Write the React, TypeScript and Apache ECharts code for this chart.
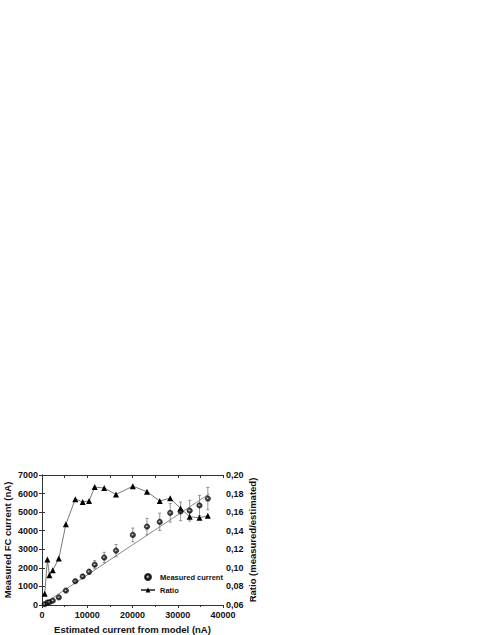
import React, { useEffect, useRef } from "react";
import * as echarts from "echarts";

const estimated = [600, 1190, 1640, 2380, 3720, 5280, 7360, 8990, 10400, 11650, 13750, 16360, 20070, 23200, 26020, 28330, 30630, 32640, 34800, 36650];
const measured = [45, 130, 150, 232, 410, 776, 1280, 1537, 1789, 2170, 2557, 2928, 3773, 4222, 4475, 4960, 5040, 5080, 5360, 5730];
const measuredErr = [30, 30, 30, 40, 50, 60, 90, 110, 140, 220, 280, 330, 370, 440, 470, 500, 500, 560, 540, 600];
const ratio = [0.072, 0.109, 0.092, 0.0975, 0.110, 0.147, 0.174, 0.171, 0.172, 0.187, 0.186, 0.179, 0.188, 0.182, 0.172, 0.175, 0.164, 0.155, 0.154, 0.156];
const fitX = [0, 37000];
const fitY = [0, 5990];

const FONT = "Liberation Sans, Arial, sans-serif";

export default function App() {
  const ref = useRef<HTMLDivElement>(null);
  useEffect(() => {
    if (!ref.current) return;
    const chart = echarts.init(ref.current, undefined, { renderer: "svg" });
    const sphere = new echarts.graphic.RadialGradient(0.45, 0.45, 0.6, [
      { offset: 0, color: "#ffffff" },
      { offset: 0.18, color: "#7a7a7a" },
      { offset: 0.45, color: "#111111" },
      { offset: 1, color: "#000000" },
    ]);
    const labelStyle = { fontFamily: FONT, fontWeight: "bold" as const, fontSize: 9, color: "#111" };
    const nameStyle = { fontFamily: FONT, fontWeight: "bold" as const, fontSize: 9.5, color: "#111" };
    const axisLine = { show: true, lineStyle: { color: "#333", width: 1 } };
    chart.setOption({
      animation: false,
      backgroundColor: "#fff",
      grid: { left: 42, right: 268, top: 475, bottom: 30 },
      legend: {
        left: 135,
        top: 568,
        orient: "vertical",
        itemWidth: 14,
        itemHeight: 6,
        itemGap: 5,
        textStyle: { fontFamily: FONT, fontWeight: "bold", fontSize: 7.5, color: "#111" },
        data: [{ name: "Measured current", icon: "circle" }, { name: "Ratio" }],
      },
      xAxis: [
        {
          type: "value",
          position: "bottom",
          min: 0,
          max: 40000,
          interval: 10000,
          splitLine: { show: false },
          axisLine,
          axisTick: { show: true, length: 3, lineStyle: { color: "#333" } },
          minorTick: { show: true, splitNumber: 2, length: 2, lineStyle: { color: "#333" } },
          axisLabel: { ...labelStyle, margin: 5, formatter: (v: number) => String(v) },
          name: "Estimated current from model (nA)",
          nameLocation: "middle",
          nameGap: 19,
          nameTextStyle: { ...nameStyle, verticalAlign: "top" },
        },
        {
          type: "value",
          position: "top",
          min: 0,
          max: 40000,
          interval: 5000,
          splitLine: { show: false },
          axisLine,
          axisTick: { show: true, inside: true, length: 3, lineStyle: { color: "#333" } },
          axisLabel: { show: false },
        },
      ],
      yAxis: [
        {
          type: "value",
          position: "left",
          min: 0,
          max: 7000,
          interval: 1000,
          splitLine: { show: false },
          axisLine,
          axisTick: { show: true, length: 3, lineStyle: { color: "#333" } },
          axisLabel: { ...labelStyle, margin: 4, formatter: (v: number) => String(v) },
          name: "Measured FC current (nA)",
          nameLocation: "middle",
          nameGap: 35,
          nameRotate: 90,
          nameTextStyle: { ...nameStyle, verticalAlign: "middle" },
        },
        {
          type: "value",
          position: "right",
          min: 0.06,
          max: 0.2,
          interval: 0.02,
          splitLine: { show: false },
          axisLine,
          axisTick: { show: true, length: 3, lineStyle: { color: "#333" } },
          axisLabel: {
            ...labelStyle,
            margin: 3,
            formatter: (v: number) => v.toFixed(2).replace(".", ","),
          },
          name: "Ratio (measured/estimated)",
          nameLocation: "middle",
          nameGap: 29,
          nameRotate: 90,
          nameTextStyle: { ...nameStyle, verticalAlign: "middle" },
        },
      ],
      series: [
        {
          name: "fit",
          type: "line",
          xAxisIndex: 0,
          yAxisIndex: 0,
          data: fitX.map((x, i) => [x, fitY[i]]),
          symbol: "none",
          lineStyle: { color: "#8a8a8a", width: 1 },
          silent: true,
          z: 1,
        },
        {
          name: "err",
          type: "custom",
          xAxisIndex: 0,
          yAxisIndex: 0,
          data: estimated.map((x, i) => [x, measured[i] - measuredErr[i], measured[i] + measuredErr[i]]),
          renderItem: (params: any, api: any) => {
            const x = api.value(0);
            const lo = api.coord([x, api.value(1)]);
            const hi = api.coord([x, api.value(2)]);
            const w = 1.5;
            const style = { stroke: "#7a7a7a", lineWidth: 0.8 };
            return {
              type: "group",
              children: [
                { type: "line", shape: { x1: lo[0], y1: lo[1], x2: hi[0], y2: hi[1] }, style },
                { type: "line", shape: { x1: lo[0] - w, y1: lo[1], x2: lo[0] + w, y2: lo[1] }, style },
                { type: "line", shape: { x1: hi[0] - w, y1: hi[1], x2: hi[0] + w, y2: hi[1] }, style },
              ],
            };
          },
          silent: true,
          z: 2,
        },
        {
          name: "Measured current",
          type: "scatter",
          xAxisIndex: 0,
          yAxisIndex: 0,
          data: estimated.map((x, i) => [x, measured[i]]),
          symbol: "circle",
          symbolSize: 5.5,
          itemStyle: { color: sphere, borderColor: "#000", borderWidth: 0.5 },
          z: 3,
        },
        {
          name: "Ratio",
          type: "line",
          xAxisIndex: 0,
          yAxisIndex: 1,
          data: estimated.map((x, i) => [x, ratio[i]]),
          symbol: "triangle",
          symbolSize: 6,
          itemStyle: { color: "#000" },
          lineStyle: { color: "#555", width: 0.8 },
          z: 4,
        },
      ],
    });
    return () => chart.dispose();
  }, []);
  return (
    <div
      ref={ref}
      style={{ position: "fixed", left: 0, top: 0, width: 491, height: 635 }}
    />
  );
}
